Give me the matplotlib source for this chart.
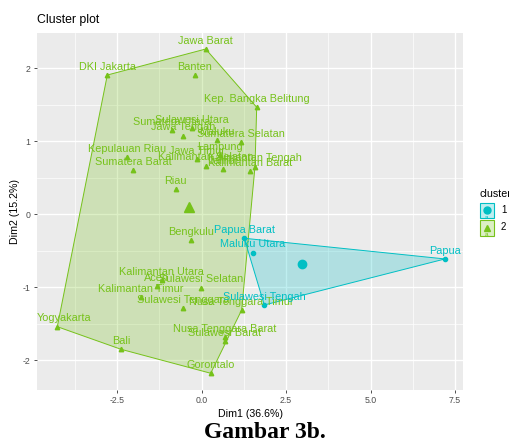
import numpy as np
import matplotlib
matplotlib.use("Agg")
import matplotlib.pyplot as plt
from matplotlib.patches import Polygon, Rectangle
from matplotlib.lines import Line2D

# Province scores on the first two principal dimensions
names_c2 = ["Jawa Barat", "DKI Jakarta", "Banten", "Kep. Bangka Belitung",
            "Sumatera Utara", "Jawa Tengah", "Sulawesi Utara", "Maluku",
            "Sumatera Selatan", "Lampung", "Jawa Timur", "Kepulauan Riau",
            "Sumatera Barat", "Kalimantan Selatan", "Jambi", "Kalimantan Barat",
            "Kalimantan Tengah", "Riau", "Bengkulu", "Kalimantan Utara", "Aceh",
            "Sulawesi Selatan", "Kalimantan Timur", "Sulawesi Tenggara",
            "Nusa Tenggara Timur", "Nusa Tenggara Barat", "Sulawesi Barat",
            "Yogyakarta", "Bali", "Gorontalo"]
dim1_c2 = [0.118, -2.795, -0.198, 1.629, -0.888, -0.545, -0.287, 0.444,
           1.164, 0.533, -0.139, -2.221, -2.025, 0.118, 0.640, 1.430,
           1.578, -0.770, -0.326, -1.184, -1.333, -0.030, -1.797, -0.545,
           1.184, 0.690, 0.690, -4.276, -2.390, 0.267]
dim2_c2 = [2.261, 1.905, 1.902, 1.464, 1.153, 1.075, 1.174, 1.012,
           0.985, 0.811, 0.757, 0.777, 0.606, 0.665, 0.616, 0.592,
           0.651, 0.346, -0.352, -0.903, -0.981, -1.004, -1.131, -1.286,
           -1.309, -1.683, -1.733, -1.538, -1.847, -2.175]

names_c1 = ["Papua Barat", "Maluku Utara", "Papua", "Sulawesi Tengah"]
dim1_c1 = [1.261, 1.510, 7.205, 1.854]
dim2_c1 = [-0.328, -0.525, -0.611, -1.241]

x_ticks = [-2.5, 0.0, 2.5, 5.0, 7.5]
y_ticks = [-2, -1, 0, 1, 2]
x_title = "Dim1 (36.6%)"
y_title = "Dim2 (15.2%)"

col_c1 = "#00BFC4"
col_c2 = "#76C21A"
panel_bg = "#EBEBEB"

# label nudges (points) where text would run past the panel edge
nudge = {"Yogyakarta": (5.0, 0.0)}

plt.rcParams["font.family"] = ["Liberation Sans", "DejaVu Sans"]

W, H = 509, 446
fig = plt.figure(figsize=(W / 100, H / 100), dpi=100)
L, R, T, B = 36.7, 463.3, 33.3, 390.0
ax = fig.add_axes([L / W, 1 - B / H, (R - L) / W, (B - T) / H])
ax.set_facecolor(panel_bg)
ax.set_xlim(-4.886, 7.747)
ax.set_ylim(-2.404, 2.476)


def hull(px, py):
    pts = sorted(set(zip(px, py)))

    def cross(o, a, b):
        return (a[0] - o[0]) * (b[1] - o[1]) - (a[1] - o[1]) * (b[0] - o[0])
    lower, upper = [], []
    for p in pts:
        while len(lower) >= 2 and cross(lower[-2], lower[-1], p) <= 0:
            lower.pop()
        lower.append(p)
    for p in reversed(pts):
        while len(upper) >= 2 and cross(upper[-2], upper[-1], p) <= 0:
            upper.pop()
        upper.append(p)
    return np.array(lower[:-1] + upper[:-1])


# grid
for v in x_ticks:
    ax.axvline(v, color="white", lw=1.0, zorder=0)
for v in np.array(x_ticks[:-1]) + 1.25:
    ax.axvline(v, color="white", lw=0.5, zorder=0)
ax.axvline(-3.75, color="white", lw=0.5, zorder=0)
for v in y_ticks:
    ax.axhline(v, color="white", lw=1.0, zorder=0)
for v in [-1.5, -0.5, 0.5, 1.5]:
    ax.axhline(v, color="white", lw=0.5, zorder=0)

groups = [
    (names_c2, dim1_c2, dim2_c2, col_c2, "^"),
    (names_c1, dim1_c1, dim2_c1, col_c1, "o"),
]
for names, xs, ys, col, mk in groups:
    hp = hull(xs, ys)
    ax.add_patch(Polygon(hp, closed=True, facecolor=col, alpha=0.25,
                         edgecolor="none", zorder=1))
    ax.add_patch(Polygon(hp, closed=True, facecolor="none",
                         edgecolor=col, lw=0.7, zorder=2))
    ax.plot(xs, ys, linestyle="none", marker=mk, color=col,
            markersize=3.2 if mk == "^" else 3.0, zorder=3)
    ax.plot(np.mean(xs), np.mean(ys), marker=mk, color=col,
            markersize=7 if mk == "^" else 6, linestyle="none", zorder=3)
    for n, x, y in zip(names, xs, ys):
        dx, dy = nudge.get(n, (0.0, 0.0))
        ax.annotate(n, (x, y), xytext=(dx, 6.0 + dy), textcoords="offset points",
                    ha="center", va="center", fontsize=7.8, color=col,
                    zorder=4, annotation_clip=True, clip_on=True)

ax.set_xticks(x_ticks)
ax.set_xticklabels([f"{v:.1f}" for v in x_ticks])
ax.set_yticks(y_ticks)
ax.set_yticklabels([str(v) for v in y_ticks])
ax.tick_params(length=2.5, width=0.6, color="#333333", labelcolor="#4D4D4D",
               labelsize=6.3, pad=2)
for s in ax.spines.values():
    s.set_visible(False)
ax.set_xlabel(x_title, fontsize=7.7, labelpad=3)
ax.set_ylabel(y_title, fontsize=7.7, labelpad=2)

fig.text(L / W, 1 - 20 / H, "Cluster plot", fontsize=8.8, ha="left", va="center")

# legend
fig.text(479.3 / W, 1 - 194 / H, "cluster", fontsize=7.7, ha="left", va="center")
keys = [("1", col_c1, "o", 202.7), ("2", col_c2, "^", 220.0)]
for lab, col, mk, top in keys:
    kx0, kw, kh = 480.0, 13.5, 15.5
    fig.patches.append(Rectangle((kx0 / W, 1 - (top + kh) / H), kw / W, kh / H,
                                 transform=fig.transFigure, facecolor=col,
                                 alpha=0.25, edgecolor="none"))
    fig.patches.append(Rectangle((kx0 / W, 1 - (top + kh) / H), kw / W, kh / H,
                                 transform=fig.transFigure, facecolor="none",
                                 edgecolor=col, lw=0.8))
    cx = (kx0 + kw / 2) / W
    fig.lines.append(Line2D([cx], [1 - (top + 7.5) / H], marker=mk, color=col,
                            markersize=5, transform=fig.transFigure))
    fig.text(cx, 1 - (top + 14.5) / H, "a", fontsize=4.5, color=col,
             ha="center", va="center")
    fig.text(501.0 / W, 1 - (top + 7.5) / H, lab, fontsize=7.0, ha="left",
             va="center")

fig.text(265 / W, 1 - 432 / H, "Gambar 3b.", fontsize=17, fontweight="bold",
         family=["Liberation Serif", "DejaVu Serif"], ha="center", va="center")

fig.savefig("out.png", dpi=100)
